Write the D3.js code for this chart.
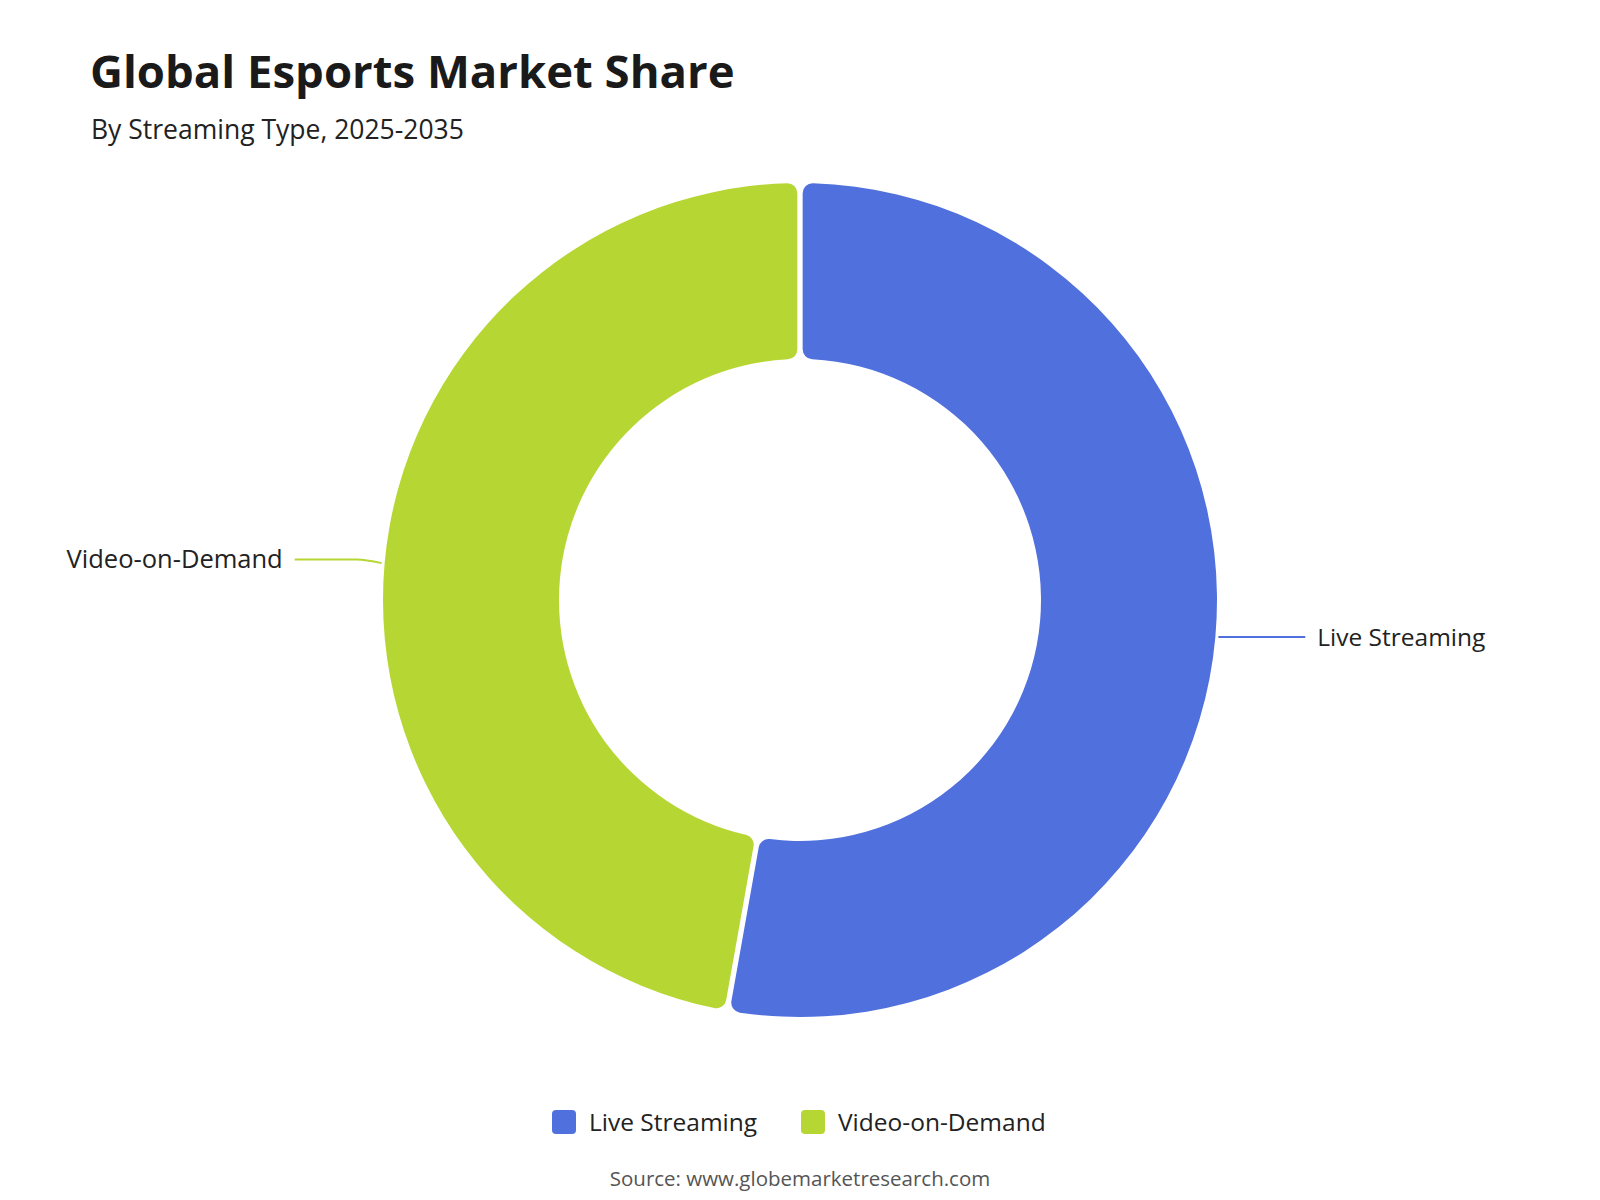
<!DOCTYPE html>
<html>
<head>
<meta charset="utf-8">
<script src="https://cdn.jsdelivr.net/npm/d3@7"></script>
<style>
  body { margin: 0; background: white; }
  text { font-family: "Open Sans", "Noto Sans", sans-serif; }
</style>
</head>
<body>
<div id="chart"></div>
<script>
// data
var categories = ["Live Streaming", "Video-on-Demand"];
var shares = [52.8, 47.2];
var colors = ["#5070dd", "#b6d634"];

var title = "Global Esports Market Share";
var subtitle = "By Streaming Type, 2025-2035";
var source = "Source: www.globemarketresearch.com";

var width = 1600, height = 1200;
var cx = 800, cy = 600;
var outerR = 417, innerR = 241;

var svg = d3.select("#chart")
  .append("svg")
    .attr("width", width)
    .attr("height", height);

svg.append("rect").attr("width", width).attr("height", height).attr("fill", "white");

// title + subtitle
svg.append("text")
  .attr("x", 90).attr("y", 88)
  .attr("font-size", 45.5).attr("font-weight", "bold")
  .attr("fill", "#1a1a1a")
  .text(title);
svg.append("text")
  .attr("x", 91).attr("y", 139)
  .attr("font-size", 26.5)
  .attr("fill", "#222")
  .text(subtitle);

var data = categories.map(function(c, i) {
  return { name: c, value: shares[i], color: colors[i] };
});

var pie = d3.pie()
  .sort(null)
  .value(function(d) { return d.value; });

var arc = d3.arc()
  .innerRadius(innerR)
  .outerRadius(outerR)
  .cornerRadius(10)
  .padAngle(0.011);

var arcs = pie(data);

var g = svg.append("g")
  .attr("transform", "translate(" + cx + "," + cy + ")");

g.selectAll(".slice")
  .data(arcs)
  .enter()
  .append("path")
    .attr("class", "slice")
    .attr("d", arc)
    .attr("fill", function(d) { return d.data.color; });

// label lines + labels
arcs.forEach(function(d) {
  var mid = (d.startAngle + d.endAngle) / 2;
  var sx = Math.sin(mid), sy = -Math.cos(mid);
  var right = sx > 0;
  var p0 = [sx * (outerR + 3), sy * (outerR + 3)];
  var p1 = [sx * (outerR + 28), sy * (outerR + 28) + (right ? -2 : -1.5)];
  var p2 = [p1[0] + (right ? 1 : -1) * 62, p1[1]];
  g.append("path")
    .attr("d", d3.line().curve(d3.curveMonotoneX)(right ? [p0, p1, p2] : [p2, p1, p0]))
    .attr("fill", "none")
    .attr("stroke", d.data.color)
    .attr("stroke-width", 2);
  g.append("text")
    .attr("x", p2[0] + (right ? 12 : -12))
    .attr("y", p2[1])
    .attr("dy", "0.35em")
    .attr("text-anchor", right ? "start" : "end")
    .attr("font-size", right ? 24.5 : 25.5)
    .attr("fill", "#222")
    .text(d.data.name);
});

// legend
var legendX = [552, 801];
var legend = svg.selectAll(".legend")
  .data(data)
  .enter()
  .append("g")
    .attr("class", "legend")
    .attr("transform", function(d, i) { return "translate(" + legendX[i] + ",1110)"; });
legend.append("rect")
  .attr("width", 24).attr("height", 24)
  .attr("rx", 4)
  .attr("fill", function(d) { return d.color; });
legend.append("text")
  .attr("x", 37).attr("y", 12)
  .attr("dy", "0.35em")
  .attr("font-size", 24.5)
  .attr("fill", "#222")
  .text(function(d) { return d.name; });

svg.append("text")
  .attr("x", 800).attr("y", 1186)
  .attr("text-anchor", "middle")
  .attr("font-size", 20.5)
  .attr("fill", "#555")
  .text(source);
</script>
</body>
</html>
